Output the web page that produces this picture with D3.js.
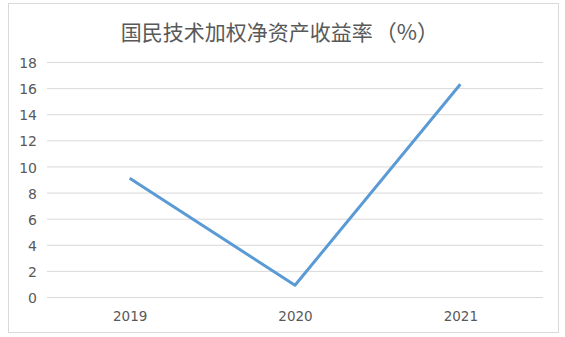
<!DOCTYPE html>
<html>
<head>
<meta charset="utf-8">
<script src="https://cdn.jsdelivr.net/npm/d3@7"></script>
<style>
  html, body { margin: 0; padding: 0; background: #fff; }
  svg { display: block; font-family: "DejaVu Sans", Verdana, sans-serif; }
</style>
</head>
<body>
<div id="chart"></div>
<script>
// ROE chart data
const titleMain = '国民技术加权净资产收益率';
const titleUnit = '（%）';
const years = ['2019', '2020', '2021'];
const roe = [9.1, 0.9, 16.3];
const yTicks = [0, 2, 4, 6, 8, 10, 12, 14, 16, 18];

const width = 565, height = 337;
const margin = { top: 62, right: 22, bottom: 40, left: 47 };
const innerW = width - margin.left - margin.right;   // 496
const innerH = height - margin.top - margin.bottom;  // 235

const svg = d3.select('#chart').append('svg')
  .attr('width', width).attr('height', height);

// outer frame
svg.append('rect')
  .attr('x', 8.5).attr('y', 3.5)
  .attr('width', 550).attr('height', 329)
  .attr('fill', '#fff').attr('stroke', '#d9d9d9').attr('stroke-width', 1);

const t = svg.append('text')
  .attr('x', 280).attr('y', 40)
  .attr('text-anchor', 'middle')
  .attr('font-family', '"Noto Sans CJK SC", sans-serif')
  .attr('font-size', 21)
  .attr('fill', '#595959');
t.append('tspan').text(titleMain);
t.append('tspan').attr('dx', 2).attr('font-size', 22).text(titleUnit);

const g = svg.append('g').attr('transform', `translate(${margin.left},${margin.top})`);

const x = d3.scalePoint().domain(years).range([0, innerW]).padding(0.5);
const y = d3.scaleLinear().domain([0, 18]).range([innerH, 0]);

// gridlines + y labels
const yAxis = g.append('g')
  .call(d3.axisLeft(y).tickValues(yTicks).tickSize(-innerW).tickFormat(d3.format('d')));
yAxis.select('.domain').remove();
yAxis.selectAll('.tick line').attr('stroke', '#d9d9d9').attr('stroke-width', 1);
yAxis.selectAll('.tick text')
  .attr('x', -10).attr('dy', '0.4em').attr('font-size', 14).attr('fill', '#595959')
  .attr('font-family', '"DejaVu Sans", Verdana, sans-serif');

// x labels
const xAxis = g.append('g')
  .attr('transform', `translate(0,${innerH})`)
  .call(d3.axisBottom(x).tickSize(0));
xAxis.select('.domain').remove();
xAxis.selectAll('.tick text')
  .attr('y', 24).attr('dy', null).attr('font-size', 13.5).attr('fill', '#595959')
  .attr('font-family', '"DejaVu Sans", Verdana, sans-serif');

// line
const line = d3.line()
  .x((d, i) => x(years[i]))
  .y(d => y(d));

g.append('path')
  .datum(roe)
  .attr('d', line)
  .attr('fill', 'none')
  .attr('stroke', '#5b9bd5')
  .attr('stroke-width', 3)
  .attr('stroke-linejoin', 'round');
</script>
</body>
</html>
